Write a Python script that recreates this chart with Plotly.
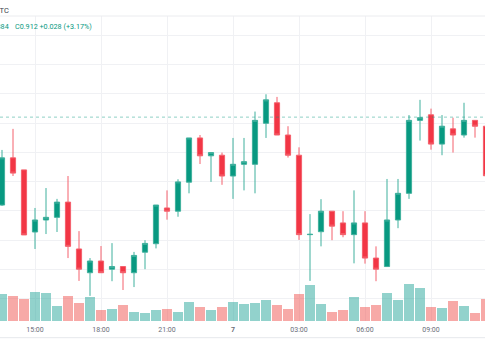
import pandas as pd
import plotly.graph_objects as go

# ---- data (30-minute candles) ----
start_time = "2024-03-06 13:30"
n_candles = 45

open_ = [0.8820, 0.8981, 0.8940, 0.8728, 0.8769, 0.8778, 0.8830, 0.8670, 0.8589, 0.8629,
         0.8601, 0.8610, 0.8589, 0.8659, 0.8688, 0.8810, 0.8799, 0.8898, 0.9049, 0.8988,
         0.8990, 0.8919, 0.8959, 0.8959, 0.9099, 0.9169, 0.9059, 0.8990, 0.8719, 0.8729,
         0.8799, 0.8759, 0.8719, 0.8759, 0.8639, 0.8610, 0.8769, 0.8860, 0.9109, 0.9128,
         0.9028, 0.9080, 0.9059, 0.9109, 0.9089]
high = [0.9008, 0.9080, 0.8940, 0.8810, 0.8878, 0.8841, 0.8919, 0.8731, 0.8639, 0.8680,
        0.8690, 0.8610, 0.8660, 0.8700, 0.8820, 0.8870, 0.8908, 0.9049, 0.9059, 0.8999,
        0.8999, 0.9049, 0.9049, 0.9139, 0.9198, 0.9189, 0.9089, 0.9017, 0.8789, 0.8840,
        0.8799, 0.8799, 0.8870, 0.8799, 0.8679, 0.8909, 0.8909, 0.9127, 0.9179, 0.9149,
        0.9127, 0.9118, 0.9169, 0.9109, 0.9089]
low = [0.8817, 0.8919, 0.8718, 0.8670, 0.8721, 0.8728, 0.8639, 0.8561, 0.8510, 0.8589,
       0.8560, 0.8530, 0.8540, 0.8601, 0.8672, 0.8770, 0.8780, 0.8860, 0.8960, 0.8899,
       0.8889, 0.8841, 0.8870, 0.8860, 0.9049, 0.9059, 0.8982, 0.8701, 0.8561, 0.8679,
       0.8700, 0.8710, 0.8621, 0.8620, 0.8560, 0.8610, 0.8741, 0.8841, 0.9040, 0.9009,
       0.8990, 0.8999, 0.9050, 0.9050, 0.8919]
close = [0.8981, 0.8929, 0.8718, 0.8769, 0.8778, 0.8830, 0.8679, 0.8601, 0.8629, 0.8589,
         0.8610, 0.8589, 0.8648, 0.8689, 0.8820, 0.8799, 0.8899, 0.9049, 0.8988, 0.8999,
         0.8919, 0.8959, 0.8968, 0.9109, 0.9179, 0.9059, 0.8990, 0.8719, 0.8720, 0.8799,
         0.8748, 0.8719, 0.8759, 0.8639, 0.8601, 0.8769, 0.8860, 0.9109, 0.9118, 0.9028,
         0.9089, 0.9059, 0.9109, 0.9089, 0.8920]
volume = [27, 24.7, 22, 29, 28.3, 15.3, 25, 18, 24, 11,
          12, 15.7, 8.7, 7.7, 11, 11.7, 8.7, 19.3, 14, 11,
          14, 19, 17, 18, 21, 16.3, 12, 26.7, 36.3, 16.7,
          8.7, 10.7, 24.3, 14, 16.3, 28.3, 20.7, 36.7, 32.7, 13.7,
          12.7, 20, 14.7, 8.3, 22]

tick_times = ["2024-03-06 15:00", "2024-03-06 18:00", "2024-03-06 21:00", "2024-03-07 00:00",
              "2024-03-07 03:00", "2024-03-07 06:00", "2024-03-07 09:00"]
tick_labels = ["15:00", "18:00", "21:00", "<b>7</b>", "03:00", "06:00", "09:00"]

last_price = 0.912
header_symbol = "BTC"
header_ohl = "O0.884 H0.915 L0.884"
header_close = "C0.912 +0.028 (+3.17%)"

# ---- styling ----
UP = "#089981"
DOWN = "#F23645"
UP_LINE = "#3FB09D"
DOWN_LINE = "#F4606C"
VOL_UP = "rgba(38,166,154,0.5)"
VOL_DOWN = "rgba(239,83,80,0.5)"
GRID = "#F0F1F4"

times = pd.date_range(start_time, periods=n_candles, freq="30min")
vol_colors = [VOL_UP if c >= o else VOL_DOWN for o, c in zip(open_, close)]

fig = go.Figure()
fig.add_trace(go.Bar(
    x=times, y=volume, marker_color=vol_colors, marker_line_width=0,
    width=30 * 60 * 1000 * 0.91, yaxis="y", hoverinfo="skip", showlegend=False,
))
fig.add_trace(go.Candlestick(
    x=times, open=open_, high=high, low=low, close=close, yaxis="y2",
    increasing=dict(fillcolor=UP, line=dict(color=UP_LINE, width=1)),
    decreasing=dict(fillcolor=DOWN, line=dict(color=DOWN_LINE, width=1)),
    whiskerwidth=0, hoverinfo="skip", showlegend=False,
))

fig.add_hline(y=last_price, yref="y2", line=dict(color="rgba(8,153,129,0.45)", width=1, dash="dot"))

x0 = times[3] - pd.Timedelta(minutes=30 * 35 / 11)
x1 = times[3] + pd.Timedelta(minutes=30 * 450 / 11)

fig.update_layout(
    width=485, height=360,
    margin=dict(l=0, r=0, t=16, b=39),
    paper_bgcolor="white", plot_bgcolor="white",
    boxgap=0.33,
    bargap=0,
    showlegend=False,
    hovermode=False,
    font=dict(family="Roboto, Arial, sans-serif"),
    xaxis=dict(
        type="date", range=[x0, x1], rangeslider=dict(visible=False),
        tickvals=tick_times, ticktext=tick_labels,
        tickfont=dict(size=7, color="#6A6D78"),
        ticklabelstandoff=3,
        showgrid=True, gridcolor=GRID, gridwidth=1,
        showline=False, zeroline=False, ticks="",
    ),
    yaxis=dict(range=[0, 305], visible=False, showgrid=False, fixedrange=True),
    yaxis2=dict(
        overlaying="y", side="right", range=[0.84242, 0.94652],
        dtick=0.01, tick0=0, showgrid=True, gridcolor=GRID, gridwidth=1,
        showticklabels=False, zeroline=False, showline=False, ticks="",
    ),
)

# pane top border and axis bottom border
fig.add_shape(type="line", xref="paper", yref="paper", x0=0, x1=1, y0=1, y1=1,
              line=dict(color="#EBECEF", width=1))
fig.add_shape(type="line", xref="paper", yref="paper", x0=0, x1=1,
              y0=-(337.7 - 321) / 305, y1=-(337.7 - 321) / 305,
              line=dict(color="#E6E8EC", width=1))

# clipped header legend text
fig.add_annotation(text=header_symbol, xref="paper", yref="paper",
                   x=10.5 / 485, y=(321 - 10) / 305, xanchor="right", yanchor="middle",
                   showarrow=False, font=dict(size=7.5, color="#3A3E4A"))
fig.add_annotation(text=header_ohl, xref="paper", yref="paper",
                   x=10.5 / 485, y=(321 - 26.5) / 305, xanchor="right", yanchor="middle",
                   showarrow=False, font=dict(size=7.2, color=UP))
fig.add_annotation(text=header_close, xref="paper", yref="paper",
                   x=13 / 485, y=(321 - 26.5) / 305, xanchor="left", yanchor="middle",
                   showarrow=False, font=dict(size=7.2, color=UP))

fig.write_html(
    "out.html",
    config={"displayModeBar": False, "staticPlot": True},
    post_script="document.body.style.margin='0';document.body.style.overflow='hidden';",
)
